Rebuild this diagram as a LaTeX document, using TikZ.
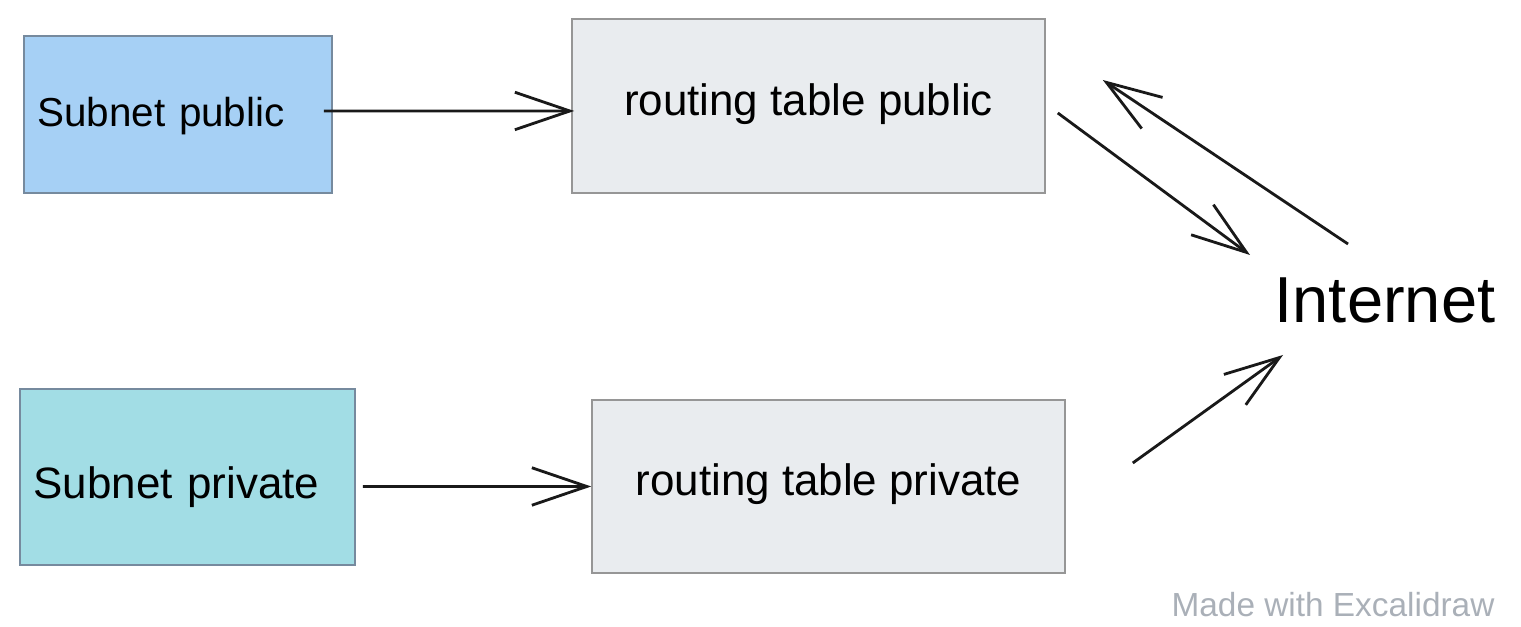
\documentclass[tikz,border=0pt]{standalone}
\usepackage{fontspec}
\setmainfont{Liberation Sans}
\usepackage{tikz}
\usetikzlibrary{arrows.meta, positioning, calc}

\definecolor{subpubfill}{RGB}{166,208,245}
\definecolor{subprivfill}{RGB}{162,221,229}
\definecolor{tablefill}{RGB}{233,236,239}
\definecolor{subnetline}{RGB}{118,138,158}
\definecolor{tableline}{RGB}{150,150,150}
\definecolor{markgray}{RGB}{170,176,184}

% move a label down (#1 > 0) or up (#1 < 0) inside its box
\newcommand{\lowerby}[2]{\ifdim#1>0pt\raisebox{0pt}[\dimexpr\height+2\dimexpr#1\relax\relax]{#2}\else\raisebox{0pt}[\height][\dimexpr\depth-2\dimexpr#1\relax\relax]{#2}\fi}

\begin{document}
\begin{tikzpicture}[
        subnetbox/.style={rectangle, draw=subnetline, line width=0.9pt, align=left, inner xsep=0.27cm, font=\fontsize{23}{27}\selectfont},
        tablebox/.style={rectangle, draw=tableline, line width=0.9pt, fill=tablefill, align=center, minimum width=9.46cm, minimum height=3.47cm, font=\fontsize{25}{29}\selectfont},
        arrow/.style={-{Straight Barb[length=11mm, width=7.5mm, line width=1.6pt]}, line width=1.6pt, black!90}
    ]
        \useasboundingbox (0,0) rectangle (30.42,12.54);

        \node[subnetbox, fill=subpubfill, text width=5.62cm, minimum height=3.14cm] (subpub) at (3.56, 10.25) {\lowerby{0.04cm}{Subnet public}};
        \node[subnetbox, fill=subprivfill, text width=6.16cm, minimum height=3.52cm, font=\fontsize{25}{29}\selectfont] (subpriv) at (3.75, 3.0) {\lowerby{0.2cm}{Subnet private}};
        \node[tablebox] (rtpub) at (16.17, 10.42) {\lowerby{-0.04cm}{routing table public}};
        \node[tablebox] (rtpriv) at (16.57, 2.81) {\lowerby{-0.04cm}{routing table private}};
        \node[font=\fontsize{37}{43}\selectfont] (inet) at (27.7, 6.54) {Internet};
        \node[font=\fontsize{19}{22}\selectfont, text=markgray] (mark) at (26.66, 0.44) {Made with Excalidraw};

        \draw[arrow] ([shift={(-0.18,0.07)}]subpub.east) -- ([shift={(0.06,-0.1)}]rtpub.west);
        \draw[arrow] ([shift={(0.14,-0.19)}]subpriv.east) -- (rtpriv.west);
        \draw[arrow] ([shift={(0.24,-0.14)}]rtpub.east) -- ([shift={(-2.7,0.9)}]inet.center);
        \draw[arrow] ([shift={(-0.74,1.12)}]inet.center) -- ([shift={(1.14,0.52)}]rtpub.east);
        \draw[arrow] ([shift={(1.34,0.47)}]rtpriv.east) -- ([shift={(-2.04,-1.1)}]inet.center);
    \end{tikzpicture}
\end{document}
